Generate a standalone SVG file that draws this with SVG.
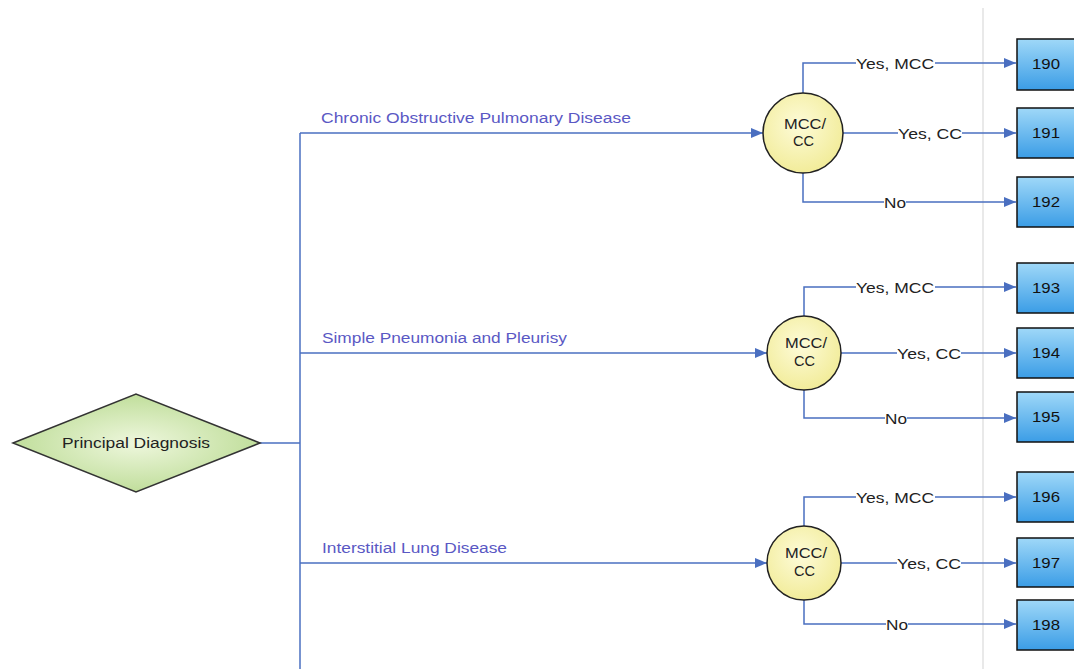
<svg xmlns="http://www.w3.org/2000/svg" width="1074" height="669" viewBox="0 0 1074 669">
<defs>
<marker id="arr" viewBox="0 0 12 10" refX="12" refY="5" markerWidth="12" markerHeight="10" markerUnits="userSpaceOnUse" orient="auto">
<path d="M0,0 L12,5 L0,10 Z" fill="#4a6fc0"/>
</marker>
<linearGradient id="boxg" x1="0" y1="0" x2="0" y2="1">
<stop offset="0" stop-color="#9fd8f8"/>
<stop offset="1" stop-color="#3b9de6"/>
</linearGradient>
<radialGradient id="circg" cx="0.45" cy="0.4" r="0.6">
<stop offset="0" stop-color="#fdfbd8"/>
<stop offset="1" stop-color="#f2ec9a"/>
</radialGradient>
<radialGradient id="diag" cx="0.5" cy="0.5" r="0.6">
<stop offset="0" stop-color="#eef7dd"/>
<stop offset="1" stop-color="#b7d98e"/>
</radialGradient>
</defs>
<style>
text{font-family:"Liberation Sans",Arial,sans-serif}
.ln{fill:none;stroke:#4a6fc0;stroke-width:1.5}
.box{fill:url(#boxg);stroke:#111;stroke-width:1.5}
.circ{fill:url(#circg);stroke:#222;stroke-width:1.5}
.bt{font-size:15px;fill:#111}
.ct{font-size:14px;fill:#222}
.el{font-size:15.5px;fill:#222}
.dl{font-size:15.5px;fill:#5a58c4}
.bg{fill:#fff}
</style>
<rect width="1074" height="669" fill="#fff"/>
<line x1="983" y1="8" x2="983" y2="669" stroke="#e2e2e2" stroke-width="1.5"/>

<g id="connectors">
<polyline class="ln" points="260,443 300,443"/>
<line class="ln" x1="300" y1="133" x2="300" y2="669"/>
<line class="ln" x1="300" y1="133" x2="763" y2="133" marker-end="url(#arr)"/>
<line class="ln" x1="300" y1="353" x2="767" y2="353" marker-end="url(#arr)"/>
<line class="ln" x1="300" y1="563" x2="767" y2="563" marker-end="url(#arr)"/>

<polyline class="ln" points="803,93 803,63 1016,63" marker-end="url(#arr)"/>
<line class="ln" x1="843" y1="133" x2="1016" y2="133" marker-end="url(#arr)"/>
<polyline class="ln" points="803,173 803,202 1016,202" marker-end="url(#arr)"/>

<polyline class="ln" points="804,316 804,287 1016,287" marker-end="url(#arr)"/>
<line class="ln" x1="841" y1="353" x2="1016" y2="353" marker-end="url(#arr)"/>
<polyline class="ln" points="804,390 804,418 1016,418" marker-end="url(#arr)"/>

<polyline class="ln" points="804,526 804,497 1016,497" marker-end="url(#arr)"/>
<line class="ln" x1="841" y1="563" x2="1016" y2="563" marker-end="url(#arr)"/>
<polyline class="ln" points="804,600 804,624 1016,624" marker-end="url(#arr)"/>

<rect class="bg" x="856" y="55" width="79" height="16"/>
<text class="el" x="856" y="69" textLength="78" lengthAdjust="spacingAndGlyphs">Yes, MCC</text>
<rect class="bg" x="898" y="125" width="64" height="16"/>
<text class="el" x="898" y="139" textLength="64" lengthAdjust="spacingAndGlyphs">Yes, CC</text>
<rect class="bg" x="884" y="194" width="22" height="16"/>
<text class="el" x="884" y="208" textLength="22" lengthAdjust="spacingAndGlyphs">No</text>

<rect class="bg" x="856" y="279" width="79" height="16"/>
<text class="el" x="856" y="293" textLength="78" lengthAdjust="spacingAndGlyphs">Yes, MCC</text>
<rect class="bg" x="897" y="345" width="64" height="16"/>
<text class="el" x="897" y="359" textLength="64" lengthAdjust="spacingAndGlyphs">Yes, CC</text>
<rect class="bg" x="885" y="410" width="22" height="16"/>
<text class="el" x="885" y="424" textLength="22" lengthAdjust="spacingAndGlyphs">No</text>

<rect class="bg" x="856" y="489" width="79" height="16"/>
<text class="el" x="856" y="503" textLength="78" lengthAdjust="spacingAndGlyphs">Yes, MCC</text>
<rect class="bg" x="897" y="555" width="64" height="16"/>
<text class="el" x="897" y="569" textLength="64" lengthAdjust="spacingAndGlyphs">Yes, CC</text>
<rect class="bg" x="886" y="616" width="22" height="16"/>
<text class="el" x="886" y="630" textLength="22" lengthAdjust="spacingAndGlyphs">No</text>

<text class="dl" x="321" y="123" textLength="310" lengthAdjust="spacingAndGlyphs">Chronic Obstructive Pulmonary Disease</text>
<text class="dl" x="322" y="343" textLength="245" lengthAdjust="spacingAndGlyphs">Simple Pneumonia and Pleurisy</text>
<text class="dl" x="322" y="553" textLength="185" lengthAdjust="spacingAndGlyphs">Interstitial Lung Disease</text>
</g>

<g id="principal">
<polygon points="13,443 136,394 260,443 136,492" fill="url(#diag)" stroke="#333" stroke-width="1.5"/>
<text x="62" y="448" font-size="15.5" fill="#222" textLength="148" lengthAdjust="spacingAndGlyphs">Principal Diagnosis</text>
</g>

<g id="mcc1"><circle class="circ" cx="803" cy="133" r="40"/><text class="ct" x="784" y="129" textLength="42" lengthAdjust="spacingAndGlyphs">MCC/</text><text class="ct" x="793" y="146" textLength="21" lengthAdjust="spacingAndGlyphs">CC</text></g>
<g id="mcc2"><circle class="circ" cx="804" cy="353" r="37"/><text class="ct" x="785" y="348" textLength="42" lengthAdjust="spacingAndGlyphs">MCC/</text><text class="ct" x="794" y="366" textLength="21" lengthAdjust="spacingAndGlyphs">CC</text></g>
<g id="mcc3"><circle class="circ" cx="804" cy="563" r="37"/><text class="ct" x="785" y="558" textLength="42" lengthAdjust="spacingAndGlyphs">MCC/</text><text class="ct" x="794" y="576" textLength="21" lengthAdjust="spacingAndGlyphs">CC</text></g>

<g id="n190"><rect class="box" x="1017" y="39" width="62" height="51"/><text class="bt" x="1032" y="69" textLength="28" lengthAdjust="spacingAndGlyphs">190</text></g>
<g id="n191"><rect class="box" x="1017" y="108" width="62" height="50"/><text class="bt" x="1032" y="138" textLength="28" lengthAdjust="spacingAndGlyphs">191</text></g>
<g id="n192"><rect class="box" x="1017" y="177" width="62" height="50"/><text class="bt" x="1032" y="207" textLength="28" lengthAdjust="spacingAndGlyphs">192</text></g>
<g id="n193"><rect class="box" x="1017" y="263" width="62" height="50"/><text class="bt" x="1032" y="293" textLength="28" lengthAdjust="spacingAndGlyphs">193</text></g>
<g id="n194"><rect class="box" x="1017" y="328" width="62" height="50"/><text class="bt" x="1032" y="358" textLength="28" lengthAdjust="spacingAndGlyphs">194</text></g>
<g id="n195"><rect class="box" x="1017" y="392" width="62" height="50"/><text class="bt" x="1032" y="422" textLength="28" lengthAdjust="spacingAndGlyphs">195</text></g>
<g id="n196"><rect class="box" x="1017" y="472" width="62" height="50"/><text class="bt" x="1032" y="502" textLength="28" lengthAdjust="spacingAndGlyphs">196</text></g>
<g id="n197"><rect class="box" x="1017" y="538" width="62" height="49"/><text class="bt" x="1032" y="568" textLength="28" lengthAdjust="spacingAndGlyphs">197</text></g>
<g id="n198"><rect class="box" x="1017" y="600" width="62" height="50"/><text class="bt" x="1032" y="630" textLength="28" lengthAdjust="spacingAndGlyphs">198</text></g>
</svg>
